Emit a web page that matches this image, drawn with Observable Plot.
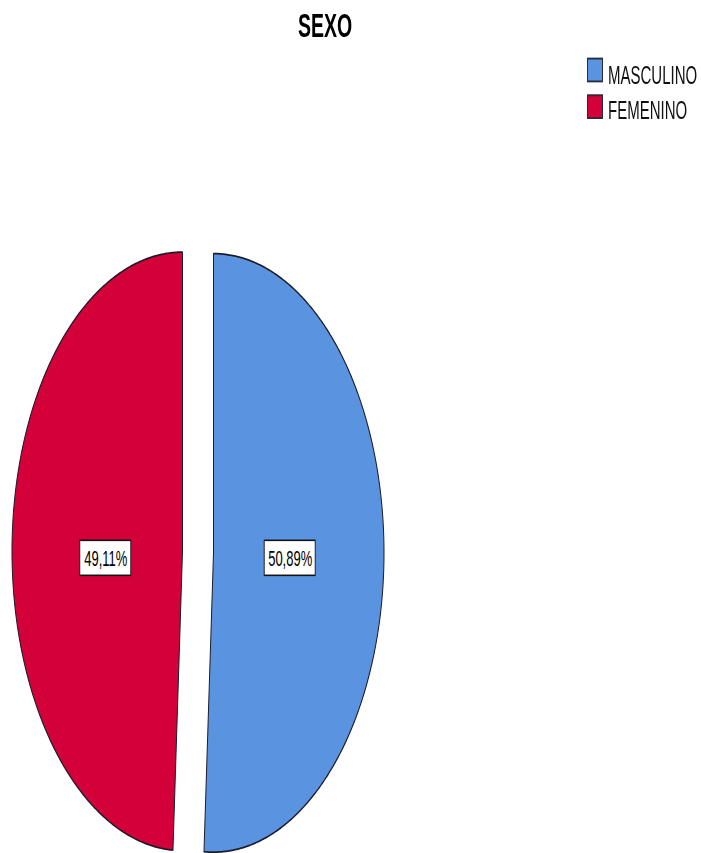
<!DOCTYPE html>
<html>
<head>
<meta charset="utf-8">
<script src="https://cdn.jsdelivr.net/npm/d3@7"></script>
<script src="https://cdn.jsdelivr.net/npm/@observablehq/plot@0.6"></script>
<style>
html { margin: 0; padding: 0; background: #fff; overflow: hidden; }
body { margin: 0; padding: 0; background: #fff; height: 853px; }
#wrap { position: relative; width: 701px; transform: scaleY(1.75); transform-origin: 0 0;
        font-family: "Liberation Sans", Arial, sans-serif; }
#head { position: relative; height: 137px; }
#title { position: absolute; top: 4.6px; left: 325px; transform: translateX(-50%);
         font-weight: bold; font-size: 19.5px; line-height: 19.5px; color: #000; white-space: nowrap; }
.sw { position: absolute; left: 587px; width: 14px; height: 12px; border: 1px solid #2a2a3a; }
.lt { position: absolute; left: 608px; font-size: 15px; line-height: 15px; white-space: nowrap; color: #111; }
#chart svg { display: block; }
</style>
</head>
<body>
<div id="wrap">
  <div id="head">
    <div id="title">SEXO</div>
  </div>
  <div id="chart"></div>
</div>
<script>
// ---- data ----
const chartTitle = "SEXO";
const categories = ["MASCULINO", "FEMENINO"];
const percents = [50.89, 49.11];
const palette = ["#5a94e0", "#d4003a"];

// ---- legend (HTML) ----
const head = document.getElementById("head");
document.getElementById("title").textContent = chartTitle;
categories.forEach((c, i) => {
  const sw = document.createElement("div");
  sw.className = "sw";
  sw.style.top = (33.2 + i * 21.2) + "px";
  sw.style.background = palette[i];
  head.appendChild(sw);
  const t = document.createElement("div");
  t.className = "lt";
  t.style.top = (34.7 + i * 20) + "px";
  t.textContent = c;
  head.appendChild(t);
});

// ---- pie geometry from data ----
const pie = d3.pie().sort(null).value(d => d.pct)(
  categories.map((c, i) => ({cat: c, pct: percents[i]}))
);
const explode = 0.091;
const labelR = 0.45;
const labelShift = 0.022;
const slices = pie.map((p, i) => {
  const a0 = p.startAngle, a1 = p.endAngle, mid = (a0 + a1) / 2;
  const ox = explode * Math.sin(mid), oy = explode * Math.cos(mid);
  const pts = [{x: ox, y: oy}];
  const n = Math.ceil((a1 - a0) / (Math.PI / 360));
  for (let k = 0; k <= n; k++) {
    const t = a0 + (a1 - a0) * k / n;
    pts.push({x: ox + Math.sin(t), y: oy + Math.cos(t)});
  }
  pts.push({x: ox, y: oy});
  return {
    cat: p.data.cat, color: palette[i], pts,
    lx: ox + labelR * Math.sin(mid),
    ly: -labelShift,
    label: p.data.pct.toFixed(2).replace(".", ",") + "%"
  };
});

const W = 701, H = 350;
const mL = 27, mR = 333, mT = 7, mB = 1;
const ux = 2 / (W - mL - mR);   // data units per px (x)
const uy = 2 / (H - mT - mB);   // data units per px (y)
const boxHalfW = 25.5 * ux, boxHalfH = 10 * uy;

const chart = Plot.plot({
  width: W, height: H,
  marginLeft: mL, marginRight: mR, marginTop: mT, marginBottom: mB,
  x: {domain: [-1, 1], axis: null},
  y: {domain: [-1, 1], axis: null},
  style: {fontFamily: "'Liberation Sans', Arial, sans-serif", fontSize: "13px", background: "white", overflow: "visible"},
  marks: [
    ...slices.map(s => Plot.line(s.pts, {
      x: "x", y: "y", fill: s.color, stroke: "#1c1c2a", strokeWidth: 1, strokeLinejoin: "round"
    })),
    Plot.rect(slices, {
      x1: d => d.lx - boxHalfW, x2: d => d.lx + boxHalfW,
      y1: d => d.ly - boxHalfH, y2: d => d.ly + boxHalfH,
      fill: "white", stroke: "#111", strokeWidth: 0.9
    }),
    Plot.text(slices, {x: "lx", y: "ly", text: "label", fill: "#000", fontSize: 13})
  ]
});
document.getElementById("chart").appendChild(chart);
</script>
</body>
</html>
